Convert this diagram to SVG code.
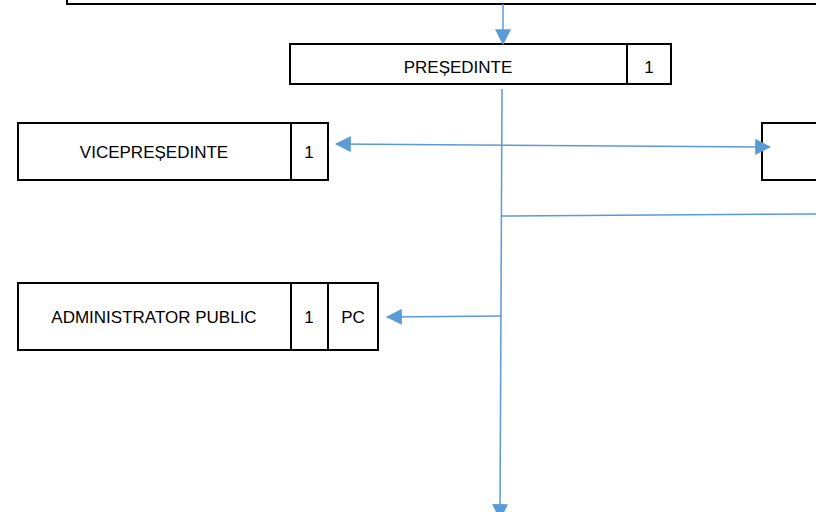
<svg xmlns="http://www.w3.org/2000/svg" width="816" height="512" viewBox="0 0 816 512">
<style>
.box{fill:#fff;stroke:#000;stroke-width:2}
.t{font-family:"Liberation Sans",Arial,sans-serif;font-size:17px;fill:#000;text-anchor:middle}
.c{fill:none;stroke:#5B9BD5;stroke-width:1.5}
</style>
<defs>
<marker id="ah" markerUnits="userSpaceOnUse" markerWidth="16" markerHeight="16" viewBox="0 0 14 14" refX="13" refY="7" orient="auto-start-reverse">
<path d="M0,0 L14,7 L0,14 Z" fill="#5B9BD5"/>
</marker>
</defs>
<g id="top-node"><rect class="box" x="67" y="-20" width="800" height="24"/></g>
<g id="presedinte">
<rect class="box" x="290" y="44" width="381" height="40"/>
<line x1="627" y1="44" x2="627" y2="84" stroke="#000" stroke-width="2"/>
<text class="t" x="458" y="73">PREȘEDINTE</text>
<text class="t" x="649" y="73">1</text>
</g>
<g id="vicepresedinte">
<rect class="box" x="18" y="123" width="310" height="57"/>
<line x1="291" y1="123" x2="291" y2="180" stroke="#000" stroke-width="2"/>
<text class="t" x="154" y="158">VICEPREȘEDINTE</text>
<text class="t" x="309" y="158">1</text>
</g>
<g id="right-node"><rect class="box" x="762" y="123" width="100" height="57"/></g>
<g id="administrator">
<rect class="box" x="18" y="283" width="360" height="67"/>
<line x1="291" y1="283" x2="291" y2="350" stroke="#000" stroke-width="2"/>
<line x1="328" y1="283" x2="328" y2="350" stroke="#000" stroke-width="2"/>
<text class="t" x="154" y="323">ADMINISTRATOR PUBLIC</text>
<text class="t" x="309" y="323">1</text>
<text class="t" x="353" y="323">PC</text>
</g>
<g id="connectors">
<line class="c" x1="503" y1="4" x2="503" y2="44" marker-end="url(#ah)"/>
<line class="c" x1="502" y1="89" x2="500" y2="519" marker-end="url(#ah)"/>
<line class="c" x1="336" y1="144" x2="770" y2="147" marker-start="url(#ah)" marker-end="url(#ah)"/>
<line class="c" x1="501" y1="216" x2="816" y2="214"/>
<line class="c" x1="502" y1="316" x2="387" y2="317" marker-end="url(#ah)"/>
</g>
</svg>
